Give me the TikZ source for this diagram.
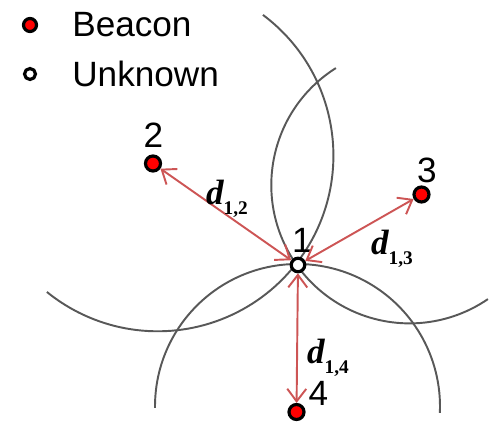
\documentclass[tikz,border=0pt]{standalone}
\usepackage{fontspec}
\setmainfont{Liberation Sans}
\newfontfamily\serifface{Liberation Serif}
\usepackage{xcolor}
\definecolor{RangeRed}{RGB}{205,85,85}
\definecolor{CircleGray}{RGB}{88,88,88}
\usepackage{tikz}
\usetikzlibrary{arrows.meta}

\newcommand{\distlabel}[1]{{\serifface\bfseries\itshape d}\raisebox{-0.55ex}{\serifface\bfseries\fontsize{11}{11}\selectfont #1}}

\begin{document}
\begin{tikzpicture}[
    beacon/.style={
        circle, draw=black, line width=1.8pt,
        fill=red, minimum size=0.30cm, inner sep=0pt
    },
    unknown/.style={
        circle, draw=black, line width=1.8pt,
        fill=white, minimum size=0.27cm, inner sep=0pt
    },
    rangecircle/.style={
        draw=CircleGray, line width=1.1pt
    },
    dist/.style={
        {Straight Barb[length=2.5mm,width=3.8mm]}-{Straight Barb[length=2.5mm,width=3.8mm]},
        line width=1.1pt, draw=RangeRed
    },
    idlabel/.style={
        font=\fontsize{20}{20}\selectfont, inner sep=0pt
    },
    dlabel/.style={
        font=\fontsize{20}{20}\selectfont, inner sep=0pt
    },
    legend/.style={
        font=\fontsize{20}{20}\selectfont, anchor=west, inner sep=0pt
    }
]
\useasboundingbox (0,0) rectangle (9.94,8.46);

% ====== LEGENDE ======
\node[beacon, minimum size=0.26cm]  (keyb) at (0.6, 7.96) {};
\node[legend] (keybtext) at (1.44, 7.96) {Beacon};
\node[unknown, minimum size=0.22cm] (keyu) at (0.6, 6.98) {};
\node[legend] (keyutext) at (1.44, 6.98) {Unknown};

% ====== CERCLES DE DISTANCE ======
\coordinate (c2) at (3.154, 5.348);
\coordinate (c3) at (8.192, 4.758);
\coordinate (c4) at (5.95, 0.33);
\draw[rangecircle] (c2) ++(53.2:3.514) arc[start angle=53.2, end angle=-129.1, radius=3.514];
\draw[rangecircle] (c3) ++(122.2:2.766) arc[start angle=122.2, end angle=304.5, radius=2.766];
\draw[rangecircle] (c4) ++(180.6:2.85) arc[start angle=180.6, end angle=-2.6, radius=2.85];

% ====== NOEUDS ======
\node[unknown] (u1) at (5.96, 3.16) {};
\node[beacon]  (b2) at (3.06, 5.19) {};
\node[beacon]  (b3) at (8.43, 4.57) {};
\node[beacon]  (b4) at (5.93, 0.22) {};

\node[idlabel] (l1) at (6.04, 3.66) {1};
\node[idlabel] (l2) at (3.07, 5.76) {2};
\node[idlabel] (l3) at (8.54, 5.06) {3};
\node[idlabel] (l4) at (6.37, 0.60) {4};

% ====== DISTANCES ======
\draw[dist] (u1) -- (b2);
\draw[dist] (u1) -- (b3);
\draw[dist] (u1) -- (b4);

\node[dlabel] (d12) at (4.54, 4.48) {\distlabel{1,2}};
\node[dlabel] (d13) at (7.84, 3.48) {\distlabel{1,3}};
\node[dlabel] (d14) at (6.56, 1.30) {\distlabel{1,4}};

\end{tikzpicture}
\end{document}
